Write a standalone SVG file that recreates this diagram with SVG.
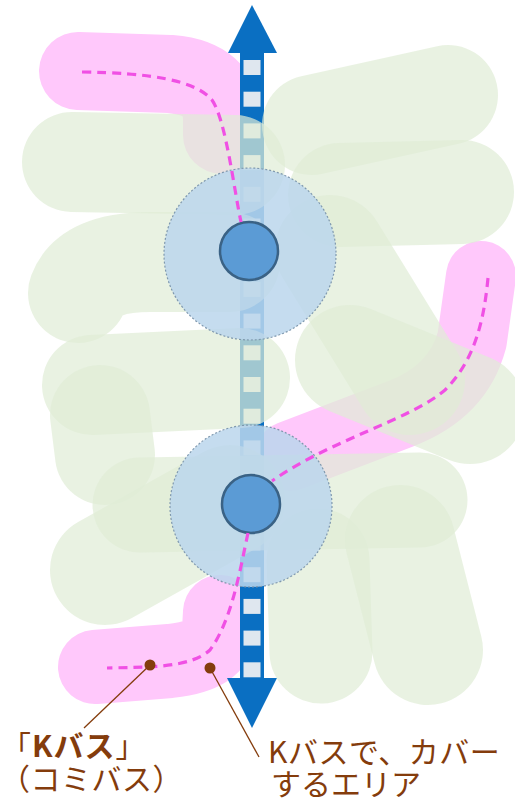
<svg xmlns="http://www.w3.org/2000/svg" width="515" height="800" viewBox="0 0 515 800">
<style>
.band{fill:none;stroke:#ffc8fb;stroke-linecap:round;stroke-linejoin:round}
.g{fill:none;stroke:#e0ecd6;stroke-opacity:0.7;stroke-linecap:round;stroke-linejoin:round}
.sq{fill:#dfe7ef}
.area{fill:#bcd6ec;fill-opacity:0.86;stroke:#7f98ae;stroke-width:1.2;stroke-dasharray:2 2}
.stop{fill:#5b9bd5;stroke:#3a6285;stroke-width:2.5}
.route{fill:none;stroke:#f050e4;stroke-width:3.2;stroke-dasharray:9 6}
.lead{stroke:#843c0c;stroke-width:1.3;fill:none}
.dot{fill:#843c0c}
.lbl{font-family:"Noto Sans CJK JP","Noto Sans",sans-serif;font-size:30px;fill:#843c0c}
</style>
<rect width="515" height="800" fill="#ffffff"/>
<g id="coverage-bands">
<path class="band" stroke-width="78" d="M78 71 L170 74 Q222 78 222 120 L222 135"/>
<path class="band" stroke-width="70" d="M481 276 L472 340 Q458 392 400 414 L290 456"/>
<path class="band" stroke-width="74" d="M95 667 L170 661 Q218 656 219 630 L220 612"/>
</g>
<g id="trunk-line">
<rect x="240" y="52" width="24" height="627" fill="#0a6fc2"/>
<polygon points="252,5 228,53 277,53" fill="#0a6fc2"/>
<polygon points="227,678 277,678 252,728" fill="#0a6fc2"/>
<rect class="sq" x="243.5" y="60" width="17" height="15"/>
<rect class="sq" x="243.5" y="91.7" width="17" height="15"/>
<rect class="sq" x="243.5" y="123.4" width="17" height="15"/>
<rect class="sq" x="243.5" y="155.1" width="17" height="15"/>
<rect class="sq" x="243.5" y="186.8" width="17" height="15"/>
<rect class="sq" x="243.5" y="218.5" width="17" height="15"/>
<rect class="sq" x="243.5" y="250.2" width="17" height="15"/>
<rect class="sq" x="243.5" y="281.9" width="17" height="15"/>
<rect class="sq" x="243.5" y="313.6" width="17" height="15"/>
<rect class="sq" x="243.5" y="345.3" width="17" height="15"/>
<rect class="sq" x="243.5" y="377" width="17" height="15"/>
<rect class="sq" x="243.5" y="408.7" width="17" height="15"/>
<rect class="sq" x="243.5" y="440.4" width="17" height="15"/>
<rect class="sq" x="243.5" y="472.1" width="17" height="15"/>
<rect class="sq" x="243.5" y="503.8" width="17" height="15"/>
<rect class="sq" x="243.5" y="535.5" width="17" height="15"/>
<rect class="sq" x="243.5" y="567.2" width="17" height="15"/>
<rect class="sq" x="243.5" y="598.9" width="17" height="15"/>
<rect class="sq" x="243.5" y="630.6" width="17" height="15"/>
<rect class="sq" x="243.5" y="662.3" width="17" height="15"/>
</g>
<g id="green-areas">
<path class="g" stroke-width="100" d="M312 125 L448 95"/>
<path class="g" stroke-width="100" d="M72 162 L235 165"/>
<path class="g" stroke-width="104" d="M340 195 L462 192"/>
<path class="g" stroke-width="100" d="M78 293 Q90 262 150 262 L230 262"/>
<path class="g" stroke-width="110" d="M330 250 L410 380"/>
<path class="g" stroke-width="100" d="M92 385 L240 378"/>
<path class="g" stroke-width="100" d="M100 415 L105 455"/>
<path class="g" stroke-width="110" d="M350 360 L470 409"/>
<path class="g" stroke-width="110" d="M105 570 L230 500"/>
<path class="g" stroke-width="95" d="M140 505 L420 500"/>
<path class="g" stroke-width="103" d="M318 560 L321 652"/>
<path class="g" stroke-width="110" d="M400 540 L428 650"/>
</g>
<g id="stop-upper">
<circle class="area" cx="250" cy="254" r="86"/>
<circle class="stop" cx="249" cy="251" r="29"/>
</g>
<g id="stop-lower">
<circle class="area" cx="251" cy="506" r="81"/>
<circle class="stop" cx="251" cy="504" r="29"/>
</g>
<g id="connectors">
<path class="route" d="M82 72 C150 73 195 80 212 100 C226 120 234 190 241 222"/>
<path class="route" d="M488 278 C484 320 475 360 445 390 C410 420 330 440 272 481"/>
<path class="route" d="M248 533 C240 570 232 620 210 650 C190 668 150 667 107 668"/>
<line class="lead" x1="150" y1="665" x2="84" y2="728"/>
<line class="lead" x1="210" y1="668" x2="259" y2="757"/>
<circle class="dot" cx="150" cy="665" r="5.5"/>
<circle class="dot" cx="210" cy="668" r="5.5"/>
</g>
<g id="labels">
<text class="lbl" x="1" y="757" letter-spacing="1">「<tspan font-weight="bold">Kバス</tspan>」</text>
<text class="lbl" x="0" y="790" letter-spacing="0.5">（コミバス）</text>
<text class="lbl" x="268" y="763" letter-spacing="0.5">Kバスで、カバー</text>
<text class="lbl" x="271" y="795">するエリア</text>
</g>
</svg>
